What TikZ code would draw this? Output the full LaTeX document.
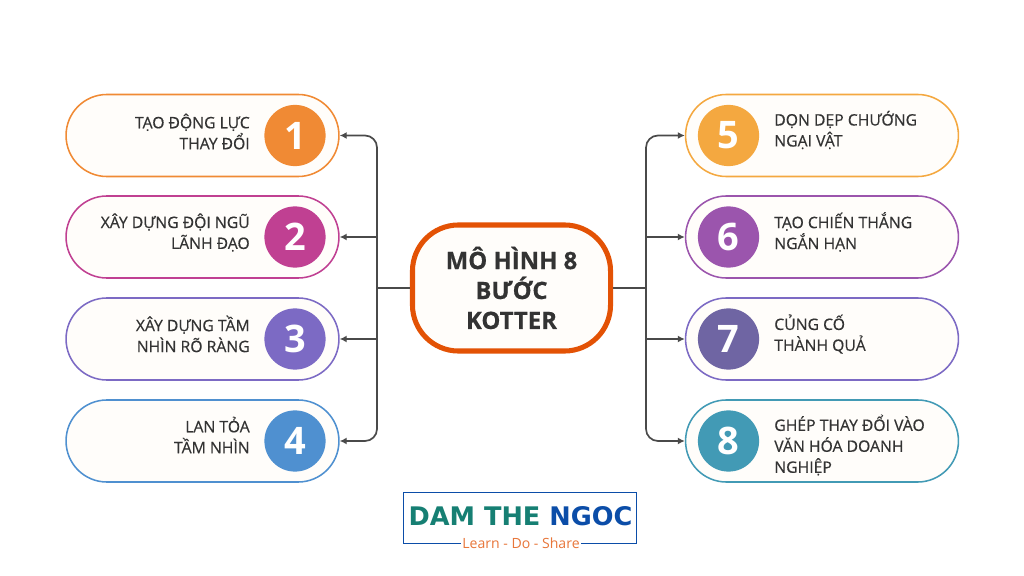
\documentclass[tikz,border=0pt]{standalone}
\usepackage{fontspec}
\setmainfont{Open Sans}
\newfontfamily\stepfont[FakeBold=0.5]{Open Sans}
\newfontfamily\hubfont[FakeBold=0.5]{Open Sans Bold}
\newfontfamily\logofont{DejaVu Sans}
\usepackage{xcolor}
\usetikzlibrary{arrows.meta}
\definecolor{ink}{HTML}{333333}
\definecolor{wirec}{HTML}{4A4A4A}
\definecolor{cream}{HTML}{FFFDFA}
\definecolor{stepa}{HTML}{F08A34}
\definecolor{stepb}{HTML}{C04092}
\definecolor{stepc}{HTML}{7C6AC4}
\definecolor{stepd}{HTML}{4F90D0}
\definecolor{stepe}{HTML}{F4A840}
\definecolor{stepf}{HTML}{9B55AD}
\definecolor{stepg}{HTML}{6F65A3}
\definecolor{steph}{HTML}{429AB5}
\definecolor{hubc}{HTML}{E35205}
\definecolor{logoteal}{HTML}{167F73}
\definecolor{logoblue}{HTML}{0B4DA8}
\definecolor{logoorange}{HTML}{E8763A}
\tikzset{
  pill/.style={draw=#1, line width=1.1pt, fill=cream, rectangle, rounded corners=1.02cm,
    minimum width=6.82cm, minimum height=2.05cm, inner sep=0pt},
  badge/.style={circle, fill=#1, text=white, minimum size=1.53cm, inner sep=0pt,
    font=\fontsize{27}{27}\selectfont\bfseries},
  steptext/.style={text=ink, inner sep=0pt, font=\stepfont\fontsize{11.2}{14.9}\selectfont},
  wire/.style={draw=wirec, line width=1.2pt},
  tipwire/.style={wire, -{Latex[length=5pt, width=5pt]}},
  arrowwire/.style={tipwire, rounded corners=0.3cm},
}
\begin{document}
\begin{tikzpicture}[x=0.025cm, y=-0.025cm]
  \useasboundingbox (0, 0) rectangle (1024, 576);

  \node[draw=hubc, line width=3.6pt, fill=cream, rectangle, rounded corners=1.15cm,
    minimum width=4.95cm, minimum height=3.15cm, align=center, text=ink,
    font=\hubfont\fontsize{17}{21.3}\selectfont] (hub) at (511.5, 288) {MÔ HÌNH 8\\BƯỚC\\KOTTER};

  \coordinate (trunkL) at (377, 288);
  \coordinate (trunkR) at (646, 288);
  \draw[wire] (hub.west) -- (trunkL);
  \draw[wire] (hub.east) -- (trunkR);

  \foreach \n/\y/\ty/\col/\txt in {1/135.5/131.5/stepa/{TẠO ĐỘNG LỰC\\THAY ĐỔI},
                                   2/237/232.5/stepb/{XÂY DỰNG ĐỘI NGŨ\\LÃNH ĐẠO},
                                   3/339/334/stepc/{XÂY DỰNG TẦM\\NHÌN RÕ RÀNG},
                                   4/441/435/stepd/{LAN TỎA\\TẦM NHÌN}} {
      \node[pill=\col] (step\n) at (202.5, \y) {};
      \node[badge=\col] (num\n) at (295, \y) {\n};
      \node[steptext, align=right, anchor=east] (label\n) at (250, \ty) {\txt};
    }
  \draw[arrowwire] (trunkL) |- (step1.east);
  \draw[arrowwire] (trunkL) |- (step4.east);
  \draw[tipwire] (step2.east -| trunkL) -- (step2.east);
  \draw[tipwire] (step3.east -| trunkL) -- (step3.east);

  \foreach \n/\y/\ty/\col/\txt in {5/135.5/130/stepe/{DỌN DẸP CHƯỚNG\\NGẠI VẬT},
                                   6/237/232/stepf/{TẠO CHIẾN THẮNG\\NGẮN HẠN},
                                   7/339/334/stepc/{CỦNG CỐ\\THÀNH QUẢ},
                                   8/441/445/steph/{GHÉP THAY ĐỔI VÀO\\VĂN HÓA DOANH\\NGHIỆP}} {
      \node[pill=\col] (step\n) at (822, \y) {};
      \node[steptext, align=left, anchor=west] (label\n) at (774, \ty) {\txt};
    }
  \draw[arrowwire] (trunkR) |- (step5.west);
  \draw[arrowwire] (trunkR) |- (step8.west);
  \draw[tipwire] (step6.west -| trunkR) -- (step6.west);
  \draw[tipwire] (step7.west -| trunkR) -- (step7.west);

  \node[badge=stepe] (num5) at (728.5, 135.5) {5};
  \node[badge=stepf] (num6) at (728.5, 237) {6};
  \node[badge=stepg] (num7) at (728.5, 339) {7};
  \node[badge=steph] (num8) at (728.5, 441) {8};

  \node[draw=logoblue, line width=1.2pt, minimum width=5.82cm, minimum height=1.27cm, inner sep=0pt] (logo) at (520, 518) {};
  \node[font=\logofont\fontsize{18.2}{18}\selectfont\bfseries, text=logoteal] (logoname) at (520.5, 516)
    {DAM THE \textcolor{logoblue}{NGOC}};
  \node[fill=white, inner sep=1pt, text=logoorange, font=\fontsize{10}{10}\selectfont] (logotag) at (521, 543) {Learn - Do - Share};
\end{tikzpicture}
\end{document}
